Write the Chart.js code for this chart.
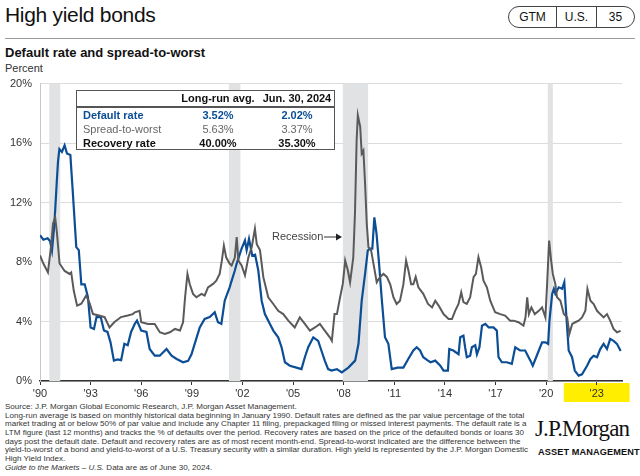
<!DOCTYPE html>
<html><head><meta charset="utf-8">
<script src="https://cdn.jsdelivr.net/npm/chart.js@4.4.1/dist/chart.umd.min.js"></script>
<style>
html,body{margin:0;padding:0;background:#fff;}
body{width:640px;height:476px;position:relative;overflow:hidden;font-family:"Liberation Sans",Arial,sans-serif;color:#222;}
.abs{position:absolute;}
#title{left:5px;top:3px;font-size:21px;color:#111;letter-spacing:-0.3px;white-space:nowrap}
#badge{left:508px;top:6px;height:20px;border:1px solid #444;border-radius:11px;display:flex;font-size:12px;color:#111;overflow:hidden}
#badge div{text-align:center;line-height:20px;border-left:1px solid #444}
#badge div:first-child{border-left:none}
#rule{left:5px;top:38px;width:630px;height:0;border-top:1px solid #9a9a9a}
#sub{left:5px;top:45px;font-size:13px;font-weight:bold;color:#111;white-space:nowrap}
#unit{left:5px;top:62px;font-size:11px;color:#333}
#chartBox{left:0;top:69px;width:640px;height:333px}
#tbl{left:76px;top:90px;width:257px;height:58px;border:1.5px solid #555;background:#fff;font-size:11px}
#tbl .c{position:absolute;white-space:nowrap;text-align:center}
#tbl .hd{font-weight:bold;color:#111}
#tbl .sep{position:absolute;left:0;top:15px;width:100%;height:0;border-top:2px solid #555}
#foot{left:5px;top:403px;font-size:8px;line-height:8.65px;color:#333;white-space:nowrap}
#foot span{display:inline-block}
#logo{left:535px;top:416px;font-family:"Liberation Serif",serif;font-size:23px;color:#111;letter-spacing:-0.9px;white-space:nowrap}
#am{left:538px;top:447px;font-size:9.2px;font-weight:bold;color:#111;letter-spacing:0.1px;white-space:nowrap}
#rec{left:272px;top:230px;font-size:11px;color:#444;white-space:nowrap}
</style>
</head>
<body>
<div id="title" class="abs">High yield bonds</div>
<div id="badge" class="abs"><div style="width:47px">GTM</div><div style="width:39px">U.S.</div><div style="width:37px">35</div></div>
<div id="rule" class="abs"></div>
<div id="sub" class="abs">Default rate and spread-to-worst</div>
<div id="unit" class="abs">Percent</div>
<div id="chartBox" class="abs"><canvas id="c"></canvas></div>
<div id="rec" class="abs">Recession<svg width="20" height="10" style="vertical-align:middle;margin-left:1px"><line x1="0" y1="5" x2="13" y2="5" stroke="#333" stroke-width="1"/><polygon points="12,1.5 18,5 12,8.5" fill="#222"/></svg></div>
<div id="tbl" class="abs">
  <div class="c hd" style="left:101px;width:80px;top:1px">Long-run avg.</div>
  <div class="c hd" style="left:181px;width:78px;top:1px">Jun. 30, 2024</div>
  <div class="sep"></div>
  <div class="c" style="left:6px;top:18px;color:#0b4e96;font-weight:bold">Default rate</div>
  <div class="c" style="left:101px;width:80px;top:18px;color:#0b4e96;font-weight:bold">3.52%</div>
  <div class="c" style="left:181px;width:78px;top:18px;color:#0b4e96;font-weight:bold">2.02%</div>
  <div class="c" style="left:6px;top:32px;color:#666">Spread-to-worst</div>
  <div class="c" style="left:66px;width:76px;top:32px;color:#666;left:101px;width:80px">5.63%</div>
  <div class="c" style="left:181px;width:78px;top:32px;color:#666">3.37%</div>
  <div class="c" style="left:6px;top:46px;color:#111;font-weight:bold">Recovery rate</div>
  <div class="c" style="left:101px;width:80px;top:46px;color:#111;font-weight:bold">40.00%</div>
  <div class="c" style="left:181px;width:78px;top:46px;color:#111;font-weight:bold">35.30%</div>
</div>
<div id="foot" class="abs"><span>Source: J.P. Morgan Global Economic Research, J.P. Morgan Asset Management.</span><br>
<span>Long-run average is based on monthly historical data beginning in January 1990. Default rates are defined as the par value percentage of the total</span><br>
<span>market trading at or below 50% of par value and include any Chapter 11 filing, prepackaged filing or missed interest payments. The default rate is a</span><br>
<span>LTM figure (last 12 months) and tracks the % of defaults over the period. Recovery rates are based on the price of the defaulted bonds or loans 30</span><br>
<span>days post the default date. Default and recovery rates are as of most recent month-end. Spread-to-worst indicated are the difference between the</span><br>
<span>yield-to-worst of a bond and yield-to-worst of a U.S. Treasury security with a similar duration. High yield is represented by the J.P. Morgan Domestic</span><br>
<span>High Yield Index.</span><br>
<span><i>Guide to the Markets – U.S.</i> Data are as of June 30, 2024.</span></div>
<div id="logo" class="abs">J.P.Morgan</div>
<div id="am" class="abs">ASSET MANAGEMENT</div>
<script>
// size the footnote so its widest line spans the reference width (text runs from x=5 to x≈528)
(function(){
  const f = document.getElementById('foot');
  const spans = Array.from(f.querySelectorAll('span'));
  let size = 8;
  for (let k = 0; k < 4; k++) {
    f.style.fontSize = size + 'px';
    const w = Math.max(...spans.map(s => s.getBoundingClientRect().width));
    if (!(w > 0)) break;
    size = size * 523 / w;
  }
  f.style.fontSize = size.toFixed(3) + 'px';
})();

// ---- Data ----
const defaultDates = [1990.0,1990.2,1990.45,1990.6,1990.71,1990.85,1991.0,1991.07,1991.15,1991.3,1991.46,1991.6,1991.8,1991.95,1992.15,1992.3,1992.45,1992.65,1992.84,1993.0,1993.2,1993.35,1993.6,1993.79,1994.0,1994.18,1994.38,1994.6,1994.81,1995.0,1995.2,1995.4,1995.62,1995.75,1996.0,1996.31,1996.5,1996.8,1997.1,1997.5,1997.8,1998.1,1998.48,1998.78,1998.98,1999.17,1999.47,1999.76,2000.06,2000.36,2000.55,2000.75,2000.95,2001.24,2001.54,2001.66,2001.95,2002.15,2002.25,2002.39,2002.58,2002.75,2002.94,2003.14,2003.33,2003.53,2003.63,2003.83,2004.12,2004.32,2004.52,2004.81,2005.2,2005.5,2005.7,2005.9,2006.2,2006.49,2006.68,2006.88,2007.08,2007.28,2007.6,2007.89,2008.28,2008.68,2008.88,2009.07,2009.27,2009.43,2009.55,2009.7,2009.82,2009.95,2010.1,2010.25,2010.45,2010.65,2010.85,2011.2,2011.54,2011.83,2012.13,2012.33,2012.53,2012.72,2013.0,2013.15,2013.43,2013.73,2013.92,2014.18,2014.26,2014.5,2014.81,2014.91,2015.1,2015.2,2015.3,2015.5,2015.6,2015.8,2015.9,2016.05,2016.2,2016.4,2016.6,2016.88,2017.08,2017.18,2017.38,2017.67,2017.97,2018.17,2018.46,2018.76,2019.07,2019.21,2019.37,2019.57,2019.76,2019.96,2020.12,2020.2,2020.36,2020.46,2020.55,2020.75,2020.95,2021.08,2021.18,2021.34,2021.54,2021.7,2021.93,2022.13,2022.43,2022.63,2022.82,2023.02,2023.21,2023.41,2023.61,2023.8,2024.0,2024.2,2024.42];
const defaultRate  = [9.8,9.5,9.6,9.4,8.77,10.5,13.5,14.8,15.6,15.4,15.85,15.3,15.2,12.6,9.0,8.8,6.5,6.5,5.65,3.6,3.5,4.3,4.3,3.4,3.3,2.6,1.37,1.45,1.4,2.5,2.4,3.3,3.84,4.06,3.39,3.3,2.15,1.7,1.7,2.15,1.7,1.48,1.26,1.35,1.8,2.5,3.6,4.17,4.3,4.62,3.95,3.84,5.4,6.3,7.4,7.9,8.9,9.45,8.8,9.56,8.44,8.5,7.43,5.4,4.5,4.06,3.84,3.39,2.94,2.27,1.26,1.03,0.9,0.8,1.6,2.27,2.94,2.7,2.05,1.37,0.8,0.7,0.8,0.58,0.9,1.37,2.5,5.4,7.2,8.77,8.9,8.9,11.0,9.9,7.88,5.63,2.94,2.5,0.8,0.9,0.9,1.48,2.05,2.27,2.05,1.6,1.37,1.26,1.37,1.03,0.7,0.7,2.15,2.05,1.8,2.94,3.05,2.27,1.6,1.7,2.27,2.4,1.8,2.27,3.72,3.84,3.6,3.6,3.39,1.6,1.26,1.26,1.15,2.27,2.05,2.05,1.37,1.03,1.48,2.05,2.6,2.6,2.5,4.06,5.86,6.2,5.86,6.3,6.2,6.64,4.73,2.05,1.6,0.7,0.36,0.45,1.03,1.48,1.7,1.6,2.15,2.5,2.15,2.83,2.7,2.5,2.02];

const spreadDates = [1990.0,1990.2,1990.47,1990.65,1990.77,1990.9,1991.0,1991.16,1991.46,1991.75,1991.85,1992.0,1992.2,1992.45,1992.74,1992.95,1993.14,1993.5,1993.83,1994.12,1994.4,1994.8,1995.2,1995.5,1995.62,1995.9,1996.0,1996.4,1996.8,1997.1,1997.4,1997.7,1998.0,1998.3,1998.48,1998.6,1998.74,1998.88,1999.07,1999.27,1999.57,1999.76,1999.96,2000.26,2000.45,2000.65,2000.78,2000.9,2001.04,2001.24,2001.36,2001.55,2001.66,2001.76,2001.95,2002.15,2002.35,2002.55,2002.74,2002.85,2003.04,2003.24,2003.53,2003.83,2004.12,2004.42,2004.72,2005.1,2005.4,2005.7,2006.0,2006.3,2006.59,2006.88,2007.18,2007.3,2007.46,2007.6,2007.79,2007.95,2008.09,2008.25,2008.38,2008.57,2008.67,2008.77,2008.84,2008.98,2009.07,2009.17,2009.27,2009.37,2009.47,2009.63,2009.77,2009.96,2010.16,2010.36,2010.56,2010.76,2010.95,2011.14,2011.34,2011.54,2011.7,2011.84,2012.0,2012.13,2012.27,2012.43,2012.72,2013.0,2013.24,2013.43,2013.63,2013.92,2014.22,2014.42,2014.61,2014.81,2014.97,2015.1,2015.3,2015.5,2015.7,2015.84,2015.99,2016.15,2016.29,2016.49,2016.69,2016.98,2017.28,2017.57,2017.87,2018.07,2018.36,2018.66,2018.78,2018.88,2018.98,2019.13,2019.33,2019.57,2019.76,2019.96,2020.06,2020.18,2020.3,2020.4,2020.55,2020.65,2020.85,2021.05,2021.25,2021.38,2021.55,2021.73,2021.93,2022.13,2022.33,2022.45,2022.63,2022.82,2023.02,2023.21,2023.41,2023.61,2023.8,2024.0,2024.2,2024.42];
const spreadToWorst = [8.44,7.9,7.3,9.0,10.57,11.0,10.0,7.9,7.4,7.2,7.3,6.08,5.07,5.2,5.75,5.2,4.5,4.4,4.29,3.6,3.95,4.3,4.4,4.5,4.62,4.72,3.95,3.84,3.84,3.28,3.17,3.28,3.5,3.4,3.95,5.63,7.2,6.5,5.86,5.63,5.86,5.75,6.3,6.53,6.75,7.2,8.1,9.1,8.3,7.9,7.77,8.3,9.68,8.1,7.77,7.1,8.3,9.0,10.24,9.2,8.8,6.98,5.63,5.18,4.72,4.5,4.06,3.6,4.28,3.84,3.39,3.6,3.84,3.39,2.94,2.7,4.5,4.5,5.63,6.53,8.1,7.43,6.64,8.3,11.25,16.2,17.87,17.1,15.3,15.5,13.27,10.57,9.0,8.77,7.88,6.64,7.0,7.2,7.0,6.5,5.63,5.18,5.4,6.5,8.1,7.43,6.5,6.5,7.0,6.3,5.86,5.18,4.95,5.4,5.07,4.5,4.17,4.17,4.72,5.18,5.97,5.3,5.18,5.63,6.98,7.2,8.33,7.65,6.75,6.3,5.4,4.62,4.5,4.4,4.06,4.06,3.95,3.72,4.28,5.63,4.5,4.95,4.5,4.72,4.95,4.28,6.5,9.45,8.1,7.2,6.5,5.63,5.4,4.5,4.28,3.17,3.84,3.95,4.06,4.28,4.72,6.2,5.4,5.18,4.72,4.5,4.28,4.5,4.06,3.5,3.28,3.37];

const recessions = [[1990.55,1991.2],[2001.2,2001.88],[2007.95,2009.45],[2020.1,2020.4]];
const xTickYears = [1990,1993,1996,1999,2002,2005,2008,2011,2014,2017,2020,2023];
const yTicks = [0,4,8,12,16,20];
const highlightSpan = [2021.05,2024.95];

const BLUE = '#0b4e96', GRAY = '#5a5a5a';

const bgPlugin = {
  id:'bg',
  beforeDraw(chart){
    const {ctx, scales:{x}, chartArea:a} = chart;
    ctx.save();
    ctx.fillStyle = '#ffee00';
    const x0 = x.getPixelForValue(highlightSpan[0]);
    const x1 = Math.min(chart.width, x.getPixelForValue(highlightSpan[1]));
    ctx.fillRect(x0, a.bottom + 2, x1 - x0, 19);
    ctx.restore();
  },
  beforeDatasetsDraw(chart){
    const {ctx, scales:{x}, chartArea:a} = chart;
    ctx.save();
    ctx.fillStyle = '#e1e2e4';
    recessions.forEach(([s,e])=>{
      const p0 = x.getPixelForValue(s), p1 = x.getPixelForValue(e);
      ctx.fillRect(p0, a.top, p1 - p0, a.bottom - a.top);
    });
    ctx.restore();
  }
};

new Chart(document.getElementById('c'), {
  type:'line',
  data:{
    datasets:[
      {label:'Spread-to-worst', data: spreadDates.map((d,i)=>({x:d,y:spreadToWorst[i]})), borderColor:GRAY, borderWidth:2, pointRadius:0, tension:0},
      {label:'Default rate', data: defaultDates.map((d,i)=>({x:d,y:defaultRate[i]})), borderColor:BLUE, borderWidth:2.2, pointRadius:0, tension:0}
    ]
  },
  options:{
    responsive:true, maintainAspectRatio:false, animation:false,
    layout:{padding:{top:0,right:18,left:0,bottom:0}},
    plugins:{legend:{display:false}, tooltip:{enabled:false}},
    scales:{
      x:{type:'linear', min:1990, max:2024.5,
        afterBuildTicks(s){ s.ticks = xTickYears.map(v=>({value:v})); },
        afterFit(s){ s.height = 21; },
        grid:{drawOnChartArea:false, drawTicks:true, tickLength:4, color:'#333'},
        border:{display:true, color:'#333', width:1.5},
        ticks:{padding:2, maxRotation:0, autoSkip:false, color:'#333', font:{family:'"Liberation Sans", Arial, sans-serif', size:11},
          callback:v=>"'"+String(v%100).padStart(2,'0')}
      },
      y:{min:0, max:20,
        afterBuildTicks(s){ s.ticks = yTicks.map(v=>({value:v})); },
        afterFit(s){ s.width = 40; },
        grid:{color:'#dcdcdc', drawTicks:false, lineWidth:1},
        border:{display:true, color:'#c8c8c8', width:1},
        ticks:{padding:8, color:'#333', font:{family:'"Liberation Sans", Arial, sans-serif', size:11},
          callback:v=>v+'%'}
      }
    }
  },
  plugins:[bgPlugin]
});
</script>
</body></html>
